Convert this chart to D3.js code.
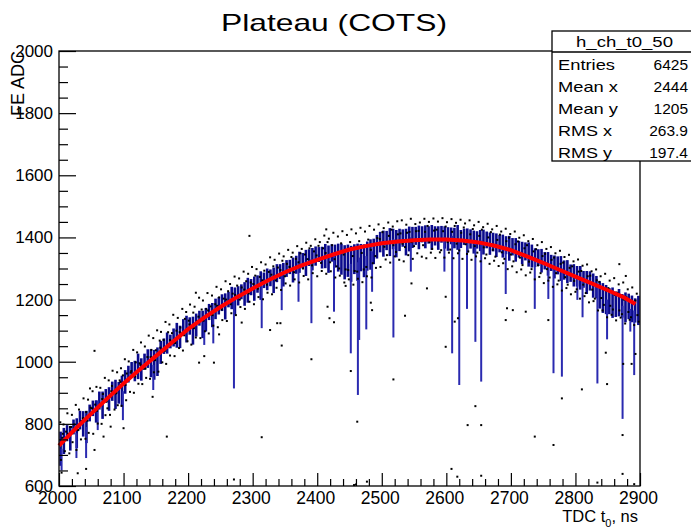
<!DOCTYPE html>
<html>
<head>
<meta charset="utf-8">
<script src="https://cdn.jsdelivr.net/npm/d3@7"></script>
<style>
  body{margin:0;background:#fff}
  text{font-family:"Liberation Sans",Arial,sans-serif;fill:#000}
</style>
</head>
<body>
<svg id="c" width="691" height="529"></svg>
<script>
// ---- data ----
const xTicks=[2000,2100,2200,2300,2400,2500,2600,2700,2800,2900]
const yTicks=[600,800,1000,1200,1400,1600,1800,2000]
const binStart=2000, binWidth=5

// profile mean per 5 ns bin
const profMean=[
  720,745,770,752,790,770,812,800,790,835,
  850,840,875,860,890,880,905,895,900,905,
  935,960,975,970,985,975,1000,1010,995,990,
  1000,1030,1050,1060,1065,1078,1085,1080,1110,1105,
  1115,1100,1118,1140,1120,1135,1160,1150,1170,1180,
  1190,1178,1200,1205,1195,1212,1225,1218,1230,1240,
  1235,1250,1245,1262,1265,1270,1262,1285,1290,1280,
  1300,1305,1295,1312,1320,1325,1318,1335,1330,1340,
  1345,1335,1340,1330,1350,1340,1335,1330,1320,1325,
  1315,1330,1320,1335,1325,1340,1345,1355,1370,1385,
  1380,1390,1385,1395,1380,1392,1398,1385,1395,1400,
  1405,1400,1410,1402,1408,1400,1405,1398,1410,1400,
  1395,1405,1398,1400,1395,1402,1390,1395,1385,1392,
  1390,1385,1392,1380,1385,1375,1380,1372,1375,1365,
  1370,1360,1362,1350,1355,1345,1340,1335,1335,1325,
  1325,1315,1318,1305,1310,1300,1295,1290,1285,1278,
  1275,1270,1265,1255,1260,1245,1240,1215,1205,1200,
  1195,1190,1185,1190,1180,1175,1178,1170,1165,1165]
// profile spread per bin
const profRms=[
  55,42,26,38,24,48,30,41,52,27,
  25,36,29,44,22,38,31,47,35,50,
  38,27,24,33,41,36,26,30,45,48,
  46,37,25,34,22,29,40,36,27,43,
  28,45,37,24,44,38,26,39,33,28,
  27,42,25,36,44,31,24,38,40,26,
  39,28,46,25,35,27,41,29,24,38,
  27,23,40,29,34,25,42,27,36,31,
  24,35,39,44,28,37,45,50,55,52,
  58,48,60,44,53,47,49,41,38,33,
  42,31,45,33,44,36,28,43,40,34,
  29,38,26,37,28,40,31,38,27,36,
  38,27,33,40,29,26,39,31,37,28,
  34,40,27,36,30,38,28,37,29,40,
  28,38,27,36,29,39,37,30,27,38,
  28,38,26,37,29,40,31,37,28,36,
  33,38,27,37,31,39,36,44,48,47,
  42,49,41,44,38,48,41,43,39,47]

// bins whose spread reaches far down
const spikeX=[2004,2027,2042,2060,2099,2146,2225,2239,2271,2314,2345,2371,2391,2426,
  2452,2463,2465,2476,2485,2518,2545,2597,2609,2620,2632,2645,2654,2692,2737,2758,
  2766,2779,2803,2811,2834,2849,2873,2885,2891]
const spikeLo=[650,690,690,780,812,909,1054,1059,914,1108,1166,1193,1124,1161,
  1027,893,1070,1104,1225,1078,1290,1290,1027,925,1170,1064,936,1218,1170,1202,
  963,952,1199,1143,930,1072,816,1097,957]

// fit curve
const fitX=[2000,2025,2050,2075,2100,2125,2150,2175,2200,2225,2250,2275,2300,2325,2350,
  2375,2400,2425,2450,2475,2500,2525,2550,2575,2600,2625,2650,2675,2700,2725,2750,2775,
  2800,2825,2850,2875,2893]
const fitY=[730,783,833,882,930,975,1018,1062,1105,1142,1176,1207,1236,1263,1288,
  1309,1328,1345,1361,1372,1381,1387,1391,1393,1393,1390,1384,1373,1359,1339,1318,1296,
  1274,1252,1230,1207,1186]

// scatter entries away from the band
const outliers=[
  [2295,1405],[2345,1052],[2391,1008],[2314,757],[2271,621],[2240,997],[2225,1018],[2416,1177],
  [2419,1140],[2426,1127],[2327,1102],[2338,1124],[2343,1124],[2444,1244],[2414,1426],[2283,1126],
  [2248,1088],[2452,970],[2462,807],[2518,943],[2536,1148],[2570,1236],[2599,1209],[2599,1048],
  [2618,1140],[2613,1129],[2645,857],[2633,796],[2654,796],[2608,655],[2617,630],[2654,633],
  [2457,603],[2477,614],[2460,605],[2546,1252],[2485,1166],[2483,1190],[2692,1134],[2694,1172],
  [2703,1166],[2723,1161],[2737,759],[2758,1134],[2766,732],[2779,882],[2810,911],[2849,928],
  [2847,1029],[2873,764],[2874,993],[2887,993],[2893,1025],[2873,639],[2891,606],[2834,611],
  [2868,1314],[2878,1276],[2055,1035],[2167,759],[2029,641],[2042,655],[2055,716],[2080,791],
  [2069,759],[2100,786],[2004,643],[2217,997],[2212,1222],[2048,914],[2145,887]]
// scatter entries around the band
const bandDots=[
  [2002,805],[2003,684],[2006,768],[2007,798],[2009,712],[2011,775],[2013,834],[2016,705],[2017,790],[2020,829],
  [2021,741],[2024,798],[2026,861],[2027,716],[2030,780],[2031,846],[2034,750],[2035,809],[2038,882],[2041,752],
  [2042,838],[2045,878],[2046,771],[2049,852],[2052,905],[2053,768],[2056,862],[2058,919],[2060,801],[2061,851],
  [2064,916],[2066,800],[2068,896],[2071,948],[2072,828],[2075,850],[2077,940],[2079,829],[2082,922],[2083,971],
  [2086,846],[2088,898],[2090,966],[2091,860],[2094,940],[2096,979],[2097,858],[2099,956],
  [2102,1008],[2104,876],[2105,962],[2108,1001],[2110,903],[2112,970],[2115,1038],[2116,900],[2119,998],[2121,1030],
  [2123,929],[2125,995],[2127,1062],[2129,928],[2131,978],[2133,1049],[2135,948],[2137,1015],[2139,1084],[2141,945],
  [2143,1038],[2146,1076],[2147,966],[2150,1037],[2152,1101],[2154,968],[2156,1068],[2158,1096],[2160,998],[2162,1070],
  [2165,1128],[2166,993],[2169,1095],[2171,1120],[2172,1020],[2175,1092],[2177,1151],[2179,1018],[2182,1100],[2184,1141],
  [2186,1044],[2188,1110],[2191,1170],[2192,1036],[2195,1138],[2197,1160],[2199,1066],
  [2201,1132],[2203,1184],[2205,1055],[2208,1158],[2210,1177],[2212,1078],[2214,1130],[2217,1206],[2219,1076],[2221,1168],
  [2223,1197],[2226,1098],[2228,1170],[2230,1221],[2232,1091],[2235,1178],[2237,1213],[2239,1116],[2242,1185],[2244,1241],
  [2246,1111],[2248,1207],[2251,1233],[2253,1134],[2255,1203],[2258,1259],[2260,1131],[2262,1227],[2265,1250],[2267,1156],
  [2269,1219],[2272,1274],[2274,1150],[2276,1245],[2279,1268],[2281,1176],[2283,1239],[2286,1290],[2288,1170],[2290,1259],
  [2293,1283],[2295,1193],[2297,1255],[2299,1305],
  [2302,1185],[2304,1277],[2306,1298],[2309,1208],[2311,1273],[2313,1320],[2316,1201],[2318,1293],[2320,1313],[2323,1222],
  [2325,1289],[2327,1336],[2330,1217],[2332,1307],[2334,1328],[2337,1238],[2339,1303],[2341,1348],[2344,1231],[2346,1325],
  [2348,1339],[2351,1252],[2353,1315],[2355,1360],[2358,1245],[2360,1337],[2362,1351],[2365,1265],[2367,1331],[2369,1372],
  [2372,1255],[2374,1349],[2376,1363],[2379,1276],[2381,1345],[2383,1383],[2386,1265],[2388,1365],[2390,1373],[2393,1285],
  [2395,1355],[2397,1394],
  [2400,1275],[2402,1373],[2404,1385],[2407,1292],[2409,1365],[2411,1406],[2414,1283],[2416,1385],[2418,1396],[2421,1291],
  [2423,1375],[2425,1415],[2428,1271],[2430,1307],[2432,1403],[2435,1277],[2437,1381],[2439,1420],[2442,1255],[2444,1297],
  [2446,1408],[2449,1265],[2451,1385],[2453,1426],[2456,1248],[2458,1292],[2460,1413],[2463,1267],[2465,1388],[2467,1431],
  [2470,1256],[2472,1297],[2474,1419],[2477,1275],[2479,1393],[2481,1437],[2484,1271],[2486,1317],[2488,1425],[2491,1302],
  [2493,1398],[2495,1442],[2498,1305],
  [2501,1417],[2503,1430],[2506,1329],[2508,1343],[2510,1448],[2513,1319],[2515,1425],[2517,1435],[2520,1339],[2522,1353],
  [2524,1452],[2527,1328],[2529,1413],[2531,1455],[2534,1323],[2536,1369],[2538,1441],[2541,1343],[2543,1418],[2545,1460],
  [2548,1331],[2550,1372],[2552,1443],[2555,1349],[2557,1421],[2559,1448],[2562,1338],[2564,1375],[2566,1460],[2569,1333],
  [2571,1437],[2573,1450],[2576,1351],[2578,1363],[2580,1461],[2583,1334],[2585,1425],[2587,1451],[2590,1352],[2592,1359],
  [2594,1462],[2597,1335],[2599,1435],[2601,1449],[2604,1351],[2606,1361],[2608,1459],[2611,1333],[2613,1437],[2615,1447],
  [2618,1349],[2620,1358],[2622,1457],[2625,1331],[2627,1432],[2629,1445],[2632,1347],[2634,1355],[2636,1455],[2639,1328],
  [2641,1427],[2643,1439],[2646,1339],[2648,1351],[2650,1450],[2653,1323],[2655,1425],[2657,1433],[2660,1333],[2662,1345],
  [2664,1444],[2667,1315],[2669,1417],[2671,1426],[2674,1325],[2676,1338],[2678,1437],[2681,1308],[2683,1409],[2685,1419],
  [2688,1317],[2690,1331],[2692,1428],[2695,1298],[2697,1399],[2699,1411],
  [2702,1307],[2704,1323],[2706,1419],[2709,1288],[2711,1387],[2713,1399],[2716,1297],[2718,1311],[2720,1407],[2723,1278],
  [2725,1375],[2727,1388],[2730,1287],[2732,1298],[2734,1395],[2737,1265],[2739,1362],[2741,1375],[2744,1273],[2746,1285],
  [2748,1385],[2751,1253],[2753,1347],[2755,1363],[2758,1261],[2760,1271],[2762,1369],[2765,1241],[2767,1335],[2769,1349],
  [2772,1249],[2774,1261],[2776,1357],[2779,1229],[2781,1319],[2783,1337],[2786,1237],[2788,1248],[2790,1344],[2793,1217],
  [2795,1307],[2797,1323],[2800,1225],[2802,1233],[2804,1329],[2807,1203],[2809,1292],[2811,1309],[2814,1211],[2816,1221],
  [2818,1313],[2821,1191],[2823,1277],[2825,1291],[2828,1195],[2830,1203],[2832,1297],[2835,1165],[2837,1257],[2839,1275],
  [2842,1165],[2844,1183],[2846,1283],[2849,1143],[2851,1237],[2853,1261],[2856,1151],[2858,1168],[2860,1269],[2863,1133],
  [2865,1222],[2867,1249],[2870,1142],[2872,1153],[2874,1255],[2877,1123],[2879,1207],[2881,1233],[2884,1135],[2886,1143],
  [2888,1239],[2891,1118],[2893,1197],[2895,1219],[2898,1129]]
// scatter entries inside the band
const innerDots=[
  [2005,755],[2014,768],[2019,790],[2029,780],[2037,818],[2044,810],[2051,850],[2059,842],[2067,880],[2074,872],
  [2081,905],[2089,900],[2095,935],[2103,925],[2111,965],[2118,952],[2126,990],[2134,978],[2142,1015],[2149,1005],
  [2157,1045],[2164,1035],[2172,1070],[2180,1060],[2187,1095],[2194,1085],[2202,1120],[2209,1108],[2216,1145],[2224,1132],
  [2231,1165],[2238,1150],[2245,1180],[2252,1168],[2259,1200],[2266,1185],[2273,1215],[2280,1200],[2287,1232],[2294,1220],
  [2301,1250],[2308,1235],[2315,1262],[2322,1248],[2329,1280],[2336,1262],[2343,1295],[2350,1275],[2357,1305],[2364,1288],
  [2371,1320],[2378,1300],[2385,1330],[2392,1310],[2399,1342],[2406,1318],[2413,1350],[2420,1320],[2427,1330],[2434,1300],
  [2441,1345],[2448,1295],[2455,1340],[2462,1290],[2469,1350],[2476,1305],[2483,1360],[2490,1340],[2497,1395],[2504,1370],
  [2511,1405],[2518,1375],[2525,1410],[2532,1380],[2539,1415],[2546,1385],[2553,1420],[2560,1390],[2567,1418],[2574,1385],
  [2581,1422],[2588,1390],[2595,1420],[2602,1385],[2609,1418],[2616,1380],[2623,1415],[2630,1378],[2637,1410],[2644,1372],
  [2651,1405],[2658,1368],[2665,1400],[2672,1360],[2679,1392],[2686,1352],[2693,1388],[2700,1345],[2707,1378],[2714,1335],
  [2721,1365],[2728,1322],[2735,1355],[2742,1310],[2749,1340],[2756,1298],[2763,1328],[2770,1285],[2777,1315],[2784,1272],
  [2791,1302],[2798,1260],[2805,1290],[2812,1248],[2819,1275],[2826,1232],[2833,1262],[2840,1205],[2847,1230],[2854,1180],
  [2861,1215],[2868,1165],[2875,1200],[2882,1160],[2889,1190],[2896,1150]]

const statLabels=["Entries","Mean x","Mean y","RMS x","RMS y"]
const statValues=["6425","2444","1205","263.9","197.4"]
const statLabelW=[57,60,60,54,54]

// ---- drawing ----
const svg=d3.select("#c")
const x=d3.scaleLinear().domain([2000,2900]).range([59,640])
const y=d3.scaleLinear().domain([600,2000]).range([486,51])

svg.append("text").attr("x",221).attr("y",31).attr("font-size",24)
  .attr("textLength",226).attr("lengthAdjust","spacingAndGlyphs").text("Plateau (COTS)")

const plot=svg.append("g")

// profile bars
plot.append("g").selectAll("line").data(profMean).join("line")
  .attr("x1",(d,i)=>x(binStart+binWidth*(i+0.5))).attr("x2",(d,i)=>x(binStart+binWidth*(i+0.5)))
  .attr("y1",(d,i)=>y(d+profRms[i])).attr("y2",(d,i)=>y(d-profRms[i]))
  .attr("stroke","#0a0a8c").attr("stroke-width",2.6)

// long bars
plot.append("g").selectAll("line").data(spikeX).join("line")
  .attr("x1",d=>x(d)).attr("x2",d=>x(d))
  .attr("y1",d=>y(profMean[Math.min(179,Math.floor((d-binStart)/binWidth))]))
  .attr("y2",(d,i)=>y(spikeLo[i]))
  .attr("stroke","#2a2ab0").attr("stroke-width",2)

// scatter
plot.append("g").selectAll("rect").data(bandDots.concat(innerDots,outliers)).join("rect")
  .attr("x",d=>x(d[0])-1).attr("y",d=>y(d[1])-1).attr("width",2).attr("height",2)
  .attr("fill","#000")

// fit
plot.append("path").datum(fitX.map((v,i)=>[v,fitY[i]]))
  .attr("d",d3.line().x(d=>x(d[0])).y(d=>y(d[1])))
  .attr("fill","none").attr("stroke","#ff0000").attr("stroke-width",4)

// axes
const xMinor=d3.range(2000,2901,20).filter(v=>v%100)
const yMinor=d3.range(600,2001,50).filter(v=>v%200)
const gx=svg.append("g").attr("transform","translate(0,486)")
gx.call(d3.axisBottom(x).tickValues(xMinor).tickSize(-7).tickFormat(""))
gx.append("g").call(d3.axisBottom(x).tickValues(xTicks).tickSize(-13).tickPadding(6).tickFormat(d3.format("d")))
const gy=svg.append("g").attr("transform","translate(59,0)")
gy.call(d3.axisLeft(y).tickValues(yMinor).tickSize(-9).tickFormat(""))
gy.append("g").call(d3.axisLeft(y).tickValues(yTicks).tickSize(-17).tickPadding(6).tickFormat(d3.format("d")))
svg.selectAll(".domain").remove()
svg.selectAll(".tick line").attr("stroke","#000").attr("stroke-width",1.2)
gx.selectAll("text").attr("font-size",17.5).attr("font-family","Liberation Sans, Arial").attr("fill","#000").attr("dx",-2)
gy.selectAll("text").attr("font-size",17).attr("font-family","Liberation Sans, Arial").attr("fill","#000")

// frame
svg.append("rect").attr("x",59).attr("y",51).attr("width",581).attr("height",435)
  .attr("fill","none").attr("stroke","#000").attr("stroke-width",1.3)

// axis titles
const xt=svg.append("text").attr("x",638).attr("y",522).attr("text-anchor","end").attr("font-size",16.5)
xt.append("tspan").text("TDC t")
xt.append("tspan").attr("font-size",11).attr("dy",5).text("0")
xt.append("tspan").attr("dy",-5).text(", ns")
svg.append("text").attr("transform","translate(24,51) rotate(-90)").attr("text-anchor","end")
  .attr("font-size",18).text("FE ADC")

// stats box
const sb=svg.append("g")
sb.append("rect").attr("x",552).attr("y",31).attr("width",150).attr("height",130)
  .attr("fill","#fff").attr("stroke","#000").attr("stroke-width",1.3)
sb.append("line").attr("x1",552).attr("x2",691).attr("y1",52).attr("y2",52).attr("stroke","#000").attr("stroke-width",1.3)
sb.append("text").attr("x",576).attr("y",47).attr("font-size",15)
  .attr("textLength",97).attr("lengthAdjust","spacingAndGlyphs").text("h_ch_t0_50")
statLabels.forEach((s,i)=>{
  sb.append("text").attr("x",558).attr("y",70+i*22).attr("font-size",15)
    .attr("textLength",statLabelW[i]).attr("lengthAdjust","spacingAndGlyphs").text(s)
  sb.append("text").attr("x",688).attr("y",70+i*22).attr("font-size",15.5)
    .attr("text-anchor","end").text(statValues[i])
})
</script>
</body>
</html>
